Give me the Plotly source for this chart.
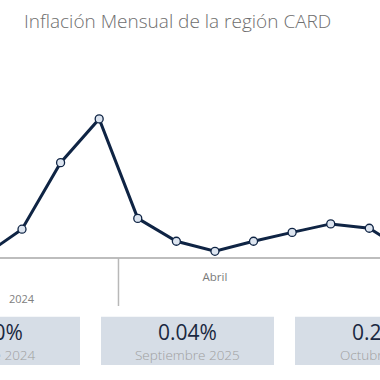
import plotly.graph_objects as go

# Data
x_idx = [0, 1, 2, 3, 4, 5, 6, 7, 8, 9, 10, 11]
inflation = [0.005, 0.141, 0.479, 0.701, 0.196, 0.080, 0.029, 0.080, 0.125, 0.168, 0.146, 0.023]
tick_vals = [6]
tick_text = ["Abril"]
year_label = "2024"
year_pos = 1
divider_pos = 3.5
card_values = ["0.30%", "0.04%", "0.25%"]
card_labels = ["Octubre 2024", "Septiembre 2025", "Octubre 2025"]

W = H = 380
plot_bottom = 257
top_m = 60
plot_h = plot_bottom - top_m

def py(pix):
    return (plot_bottom - pix) / plot_h

NAVY = "#0f2444"
FONT = "Open Sans"

fig = go.Figure()
fig.add_trace(go.Scatter(
    x=x_idx, y=inflation, mode="lines+markers",
    line=dict(color=NAVY, width=3),
    marker=dict(size=8, color="#dde5f0", line=dict(color=NAVY, width=1.3)),
    hoverinfo="skip", showlegend=False,
))

spacing = 38.59
x0 = 1 - 22 / spacing
x1 = x0 + W / spacing

shapes = []
# divider
shapes.append(dict(type="line", xref="x", yref="paper", x0=divider_pos, x1=divider_pos,
                   y0=py(258), y1=py(306), line=dict(color="#b8b8b8", width=1.5)))
# cards
card_w = 173
card_lefts = [101 - 194, 101, 295]
annots = []
for left, val, lab in zip(card_lefts, card_values, card_labels):
    shapes.append(dict(type="rect", xref="paper", yref="paper",
                       x0=left / W, x1=(left + card_w) / W,
                       y0=py(365), y1=py(316.7), fillcolor="#d6dde6",
                       line=dict(width=0), layer="below"))
    cx = (left + card_w / 2) / W
    annots.append(dict(xref="paper", yref="paper", x=cx, y=py(332), text=val,
                       showarrow=False, xanchor="center", yanchor="middle",
                       font=dict(family=FONT, size=21, color="#1a2840")))
    annots.append(dict(xref="paper", yref="paper", x=cx, y=py(355), text=lab,
                       showarrow=False, xanchor="center", yanchor="middle",
                       font=dict(family=FONT, size=13.5, color="#a0a0a0", weight=300)))

annots.append(dict(xref="x", yref="paper", x=year_pos, y=py(298), text=year_label,
                   showarrow=False, xanchor="center", yanchor="middle",
                   font=dict(family=FONT, size=11, color="#808080")))

fig.update_layout(
    width=W, height=H,
    margin=dict(l=0, r=0, t=top_m, b=H - plot_bottom),
    paper_bgcolor="white", plot_bgcolor="white",
    title=dict(text="Inflación Mensual de la región CARD", x=24 / W, xanchor="left",
               xref="paper", yref="container", y=1 - 21 / H, yanchor="middle",
               font=dict(family=FONT, size=19, color="#6e6e6e", weight=300)),
    xaxis=dict(range=[x0, x1], showgrid=False, zeroline=False,
               showline=True, linecolor="#bdbdbd", linewidth=1.5,
               tickvals=tick_vals, ticktext=tick_text, ticks="outside",
               ticklen=8, tickcolor="rgba(0,0,0,0)",
               tickfont=dict(family=FONT, size=11.5, color="#7a7a7a")),
    yaxis=dict(range=[0, 1.0], visible=False, showgrid=False, zeroline=False),
    shapes=shapes, annotations=annots,
)

fig.write_html("out.html", config={"displayModeBar": False},
               post_script="document.body.style.margin='0px';document.body.style.overflow='hidden';")
